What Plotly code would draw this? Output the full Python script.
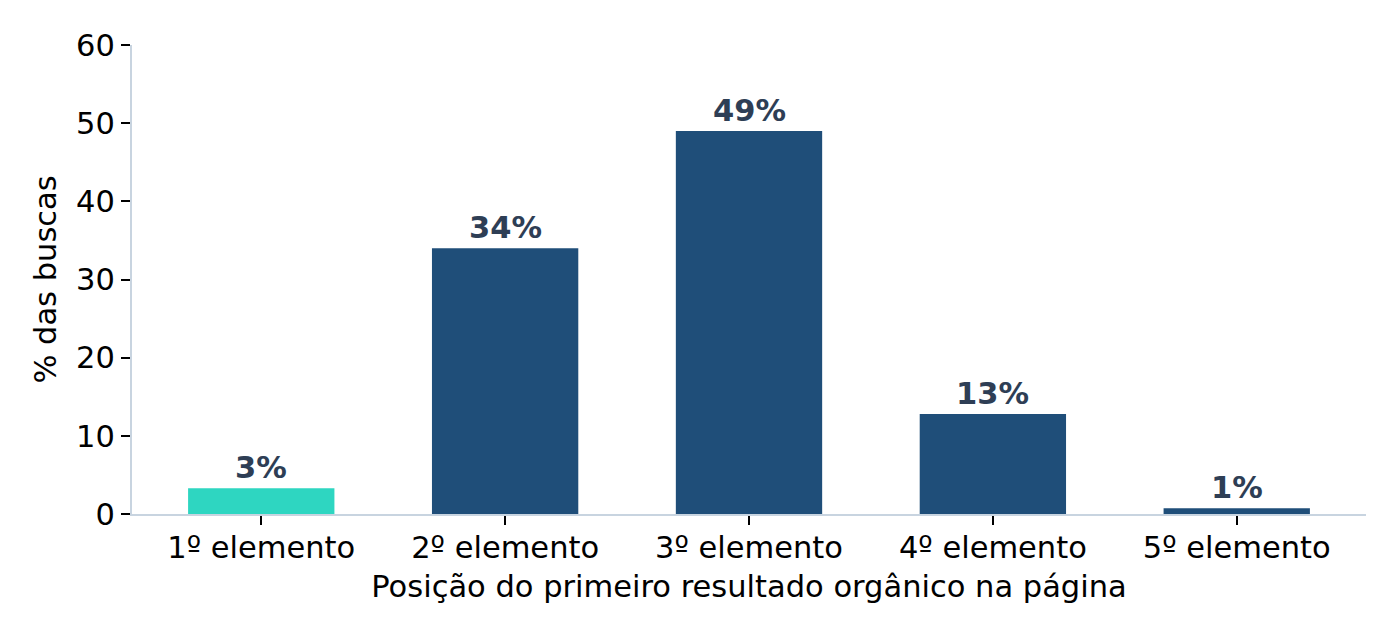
import plotly.graph_objects as go

categories = ["1º elemento", "2º elemento", "3º elemento", "4º elemento", "5º elemento"]
values = [3.3, 34.0, 49.0, 12.8, 0.75]
labels = ["3%", "34%", "49%", "13%", "1%"]
colors = ["#2ED6C1", "#1F4E79", "#1F4E79", "#1F4E79", "#1F4E79"]
y_ticks = [0, 10, 20, 30, 40, 50, 60]

font_family = "DejaVu Sans"
fs = 30.5

fig = go.Figure()
fig.add_trace(go.Bar(
    x=list(range(len(categories))),
    y=values,
    marker=dict(color=colors, line=dict(width=0)),
    width=0.6,
    hoverinfo="skip",
))

for i, (v, t) in enumerate(zip(values, labels)):
    fig.add_annotation(
        x=i, y=v, text=f"<b>{t}</b>", showarrow=False,
        yanchor="bottom", yshift=1,
        font=dict(family=font_family, size=fs, color="#2E3E55"),
    )

fig.update_layout(
    width=1400, height=640,
    margin=dict(l=132, r=34, t=45, b=126),
    paper_bgcolor="white", plot_bgcolor="white",
    showlegend=False,
    font=dict(family=font_family, size=fs, color="black"),
    xaxis=dict(
        range=[-0.53, 4.53],
        tickmode="array", tickvals=list(range(len(categories))), ticktext=categories,
        showgrid=False, zeroline=False,
        showline=True, linecolor="#C8D4E0", linewidth=2,
        ticks="outside", ticklen=9, tickwidth=2, tickcolor="black",
        ticklabelstandoff=-4,
        title=dict(text="Posição do primeiro resultado orgânico na página", standoff=12,
                   font=dict(size=fs)),
        tickfont=dict(size=fs),
    ),
    yaxis=dict(
        range=[0, 60],
        tickmode="array", tickvals=y_ticks,
        showgrid=False, zeroline=False,
        showline=True, linecolor="#C8D4E0", linewidth=2,
        ticks="outside", ticklen=9, tickwidth=2, tickcolor="black",
        title=dict(text="% das buscas", standoff=10, font=dict(size=fs)),
        tickfont=dict(size=fs),
    ),
)

fig.write_html("out.html")
